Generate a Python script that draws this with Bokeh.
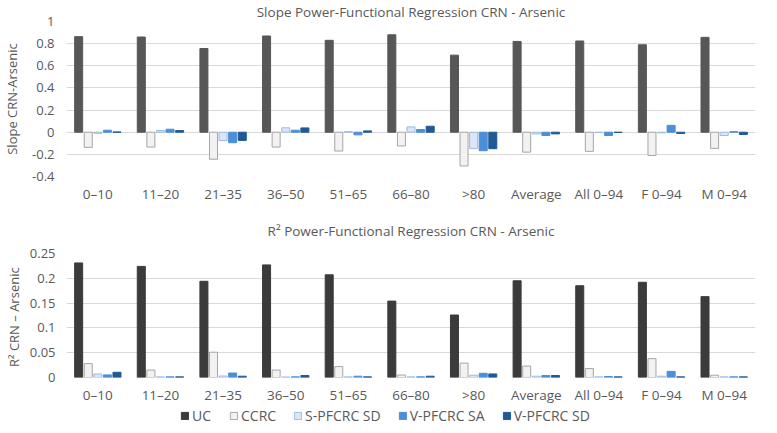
from bokeh.plotting import figure
from bokeh.models import Range1d, FixedTicker, Legend, LegendItem
from bokeh.layouts import column
from bokeh.embed import file_html
from bokeh.resources import INLINE

categories = ["0–10", "11–20", "21–35", "36–50", "51–65", "66–80", ">80",
              "Average", "All 0–94", "F 0–94", "M 0–94"]
series_names = ["UC", "CCRC", "S-PFCRC SD", "V-PFCRC SA", "V-PFCRC SD"]

slope_uc = [0.863, 0.86, 0.756, 0.869, 0.83, 0.88, 0.696, 0.82, 0.824, 0.79, 0.857]
slope_ccrc = [-0.137, -0.134, -0.244, -0.134, -0.17, -0.124, -0.305, -0.18, -0.173, -0.21, -0.146]
slope_s_sd = [-0.01, 0.015, -0.076, 0.04, 0.005, 0.048, -0.148, -0.015, -0.003, -0.006, -0.03]
slope_v_sa = [0.018, 0.027, -0.095, 0.018, -0.024, 0.024, -0.167, -0.03, -0.03, 0.062, 0.005]
slope_v_sd = [0.002, 0.015, -0.074, 0.039, 0.012, 0.054, -0.149, -0.015, -0.002, -0.012, -0.02]

r2_uc = [0.231, 0.224, 0.194, 0.227, 0.207, 0.154, 0.126, 0.195, 0.185, 0.192, 0.163]
r2_ccrc = [0.028, 0.015, 0.051, 0.015, 0.022, 0.005, 0.029, 0.023, 0.018, 0.038, 0.0046]
r2_s_sd = [0.007, 0.0013, 0.003, 0.001, 0.0013, 0.0013, 0.0046, 0.0026, 0.0013, 0.0026, 0.0013]
r2_v_sa = [0.0052, 0.0013, 0.009, 0.0013, 0.0026, 0.0013, 0.0085, 0.004, 0.002, 0.0124, 0.0013]
r2_v_sd = [0.0105, 0.0013, 0.0026, 0.004, 0.0013, 0.0026, 0.0072, 0.004, 0.0013, 0.0013, 0.0013]

slope_ticks = [-0.4, -0.2, 0, 0.2, 0.4, 0.6, 0.8, 1]
slope_tick_labels = ["-0.4", "-0.2", "0", "0.2", "0.4", "0.6", "0.8", "1"]
r2_ticks = [0, 0.05, 0.1, 0.15, 0.2, 0.25]
r2_tick_labels = ["0", "0.05", "0.1", "0.15", "0.2", "0.25"]

title_top = "Slope Power-Functional Regression CRN - Arsenic"
title_bottom = "R² Power-Functional Regression CRN - Arsenic"
ylabel_top = "Slope CRN-Arsenic"
ylabel_bottom = "R²  CRN – Arsenic"

FONT = "Open Sans"
TXT = "#595959"
n = len(categories)
centers = [i + 0.5 for i in range(n)]
step = 0.153
bw = 0.128

fills_top = ["#575757", "#f2f2f2", "#dae6f5", "#4a8fd8", "#1f5a96"]
fills_bot = ["#3b3b3b", "#f2f2f2", "#dae6f5", "#4a8fd8", "#1f5a96"]
lines = [None, "#a6a6a6", "#9dbbe0", None, None]


def add_bars(p, data, fills):
    renderers = []
    for k, vals in enumerate(data):
        xs = [c + (k - 2) * step for c in centers]
        lc = lines[k] if lines[k] else fills[k]
        r = p.vbar(x=xs, top=vals, bottom=0, width=bw, fill_color=fills[k],
                   line_color=lc, line_width=1)
        renderers.append(r)
    return renderers


def make_fig(height, yr, ticks, tick_labels, ylabel, title, title_standoff, data, fills,
             border_top, border_right, border_bottom, label_standoff_y, axis_label_standoff):
    p = figure(width=761, height=height, x_range=Range1d(0, n), y_range=Range1d(*yr),
               output_backend="svg", toolbar_location=None, title=title,
               min_border_left=57, min_border_right=border_right,
               min_border_top=border_top, min_border_bottom=border_bottom)
    p.title.align = "center"
    p.title.offset = -30
    p.title.standoff = title_standoff
    p.title.text_font = FONT
    p.title.text_font_size = "13.5px"
    p.title.text_font_style = "normal"
    p.title.text_color = TXT

    p.outline_line_color = None
    p.xgrid.visible = False
    p.ygrid.grid_line_color = "#d9d9d9"
    p.ygrid.ticker = FixedTicker(ticks=ticks)

    p.xaxis.ticker = FixedTicker(ticks=centers)
    p.xaxis.major_label_overrides = {c: lab for c, lab in zip(centers, categories)}
    p.xaxis.axis_line_color = None
    p.xaxis.major_tick_line_color = None
    p.xaxis.minor_tick_line_color = None
    p.xaxis.major_tick_out = 0
    p.xaxis.major_label_standoff = 8
    p.xaxis.major_label_text_font = FONT
    p.xaxis.major_label_text_font_size = "13.5px"
    p.xaxis.major_label_text_color = TXT

    p.yaxis.ticker = FixedTicker(ticks=ticks)
    p.yaxis.major_label_overrides = {t: lab for t, lab in zip(ticks, tick_labels)}
    p.yaxis.axis_line_color = None
    p.yaxis.major_tick_line_color = None
    p.yaxis.minor_tick_line_color = None
    p.yaxis.major_tick_out = 0
    p.yaxis.major_label_standoff = label_standoff_y
    p.yaxis.major_label_text_font = FONT
    p.yaxis.major_label_text_font_size = "13px"
    p.yaxis.major_label_text_color = TXT
    p.yaxis.axis_label = ylabel
    p.yaxis.axis_label_text_font = FONT
    p.yaxis.axis_label_text_font_size = "13px"
    p.yaxis.axis_label_text_font_style = "normal"
    p.yaxis.axis_label_text_color = TXT
    p.yaxis.axis_label_standoff = axis_label_standoff

    add_bars(p, data, fills)
    return p


r2_data = [r2_uc, r2_ccrc, r2_s_sd, r2_v_sa, r2_v_sd]

top = make_fig(206, (-0.4, 1), slope_ticks, slope_tick_labels, ylabel_top,
               title_top, 1, [slope_uc, slope_ccrc, slope_s_sd, slope_v_sa, slope_v_sd],
               fills_top, 19, 6, 30, 12, 8)

bot = make_fig(200, (0, 0.25), r2_ticks, r2_tick_labels, ylabel_bottom,
               title_bottom, 27, r2_data, fills_bot, 0, 0, 28, 11, 4)

# legend strip: same series drawn into a range that keeps the bars out of view
leg = figure(width=761, height=19, x_range=Range1d(0, n), y_range=Range1d(10, 11),
             output_backend="svg", toolbar_location=None, title=None,
             x_axis_type=None, y_axis_type=None, min_border=0)
leg.outline_line_color = None
leg.grid.visible = False
leg_rs = add_bars(leg, r2_data, fills_bot)
legend = Legend(items=[LegendItem(label=s, renderers=[r]) for s, r in zip(series_names, leg_rs)],
                orientation="horizontal", location=(114, 0),
                border_line_color=None, background_fill_alpha=0,
                label_text_font=FONT, label_text_font_size="14px", label_text_color=TXT,
                glyph_width=9, glyph_height=9, label_standoff=3, spacing=17,
                padding=0, margin=0, label_height=16)
leg.add_layout(legend, "center")

layout = column(top, bot, leg, spacing=0)
open("out.html", "w").write(file_html(layout, INLINE))
